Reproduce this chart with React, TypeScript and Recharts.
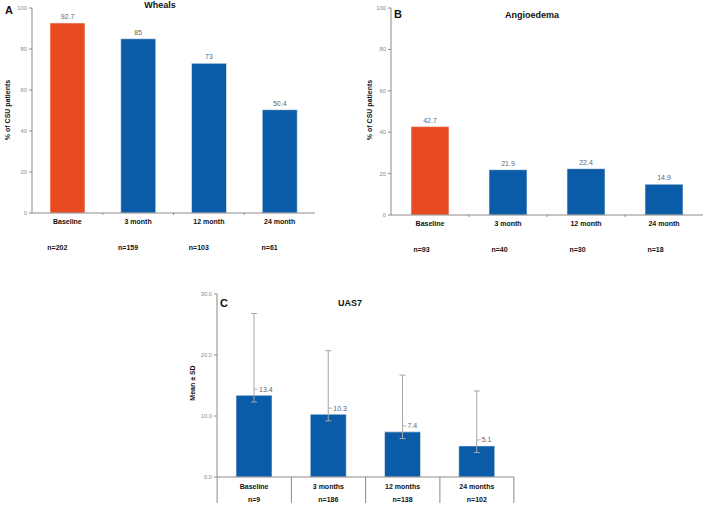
import React from "react";
import {Bar, BarChart, Cell, ErrorBar, LabelList, XAxis, YAxis} from "recharts";

// Panel A - wheals
const monthCats = ["Baseline", "3 month", "12 month", "24 month"];
const whealsPct = [92.7, 85, 73, 50.4];
const whealsN = ["n=202", "n=159", "n=103", "n=61"];

// Panel B - angioedema
const angioPct = [42.7, 21.9, 22.4, 14.9];
const angioN = ["n=93", "n=40", "n=30", "n=18"];

// Panel C - UAS7
const uasCats = ["Baseline", "3 months", "12 months", "24 months"];
const uasMean = [13.4, 10.3, 7.4, 5.1];
const uasSdUp = [13.4, 10.4, 9.3, 9.0];
const uasSdDown = [1.1, 1.1, 1.1, 1.1];
const uasN = ["n=9", "n=186", "n=138", "n=102"];

const pctTicks = [0, 20, 40, 60, 80, 100];
const uasTicks = [0, 10, 20, 30];

const ORANGE = "#E84B22";
const BLUE = "#0A5CA8";
const GREY = "#8a8a8a";
const FONT = "Arial, 'Liberation Sans', sans-serif";

const whealsData = monthCats.map((c, i) => ({cat: c, pct: whealsPct[i], n: whealsN[i]}));
const angioData = monthCats.map((c, i) => ({cat: c, pct: angioPct[i], n: angioN[i]}));
const uasData = uasCats.map((c, i) => ({cat: c, mean: uasMean[i], sd: [uasSdDown[i], uasSdUp[i]], n: uasN[i]}));

const makePctTick = (nLabels: string[], bw: number, nShift: number) => (props: any) => {
    const {x, y, payload, index} = props;
    return (
        <g>
            {index > 0 && <line x1={x - bw / 2} x2={x - bw / 2} y1={y} y2={y + 2} stroke={GREY}/>}
            <text x={x} y={y + 10.5} textAnchor="middle" fontSize={7} fontWeight="bold" fill="#111" fontFamily={FONT}>
                {payload.value}
            </text>
            <text x={x + nShift} y={y + 36.5} textAnchor="middle" fontSize={7} fontWeight="bold" fill="#111" fontFamily={FONT}>
                {nLabels[index]}
            </text>
        </g>
    );
};

const uasTick = (props: any) => {
    const {x, y, payload, index} = props;
    const bw = 74;
    return (
        <g>
            <line x1={x - bw / 2} x2={x - bw / 2} y1={y} y2={y + 26} stroke={GREY}/>
            {index === uasCats.length - 1 && <line x1={x + bw / 2} x2={x + bw / 2} y1={y} y2={y + 26} stroke={GREY}/>}
            <text x={x} y={y + 11.5} textAnchor="middle" fontSize={7} fontWeight="bold" fill="#111" fontFamily={FONT}>
                {payload.value}
            </text>
            <text x={x} y={y + 24.5} textAnchor="middle" fontSize={7} fontWeight="bold" fill="#111" fontFamily={FONT}>
                {uasN[index]}
            </text>
        </g>
    );
};

const pctLabel = (props: any) => {
    const {x, y, width, value} = props;
    return (
        <text x={x + width / 2} y={y - 4} textAnchor="middle" fontSize={7} fill="#666" fontFamily={FONT}>
            {value}
        </text>
    );
};

const uasLabel = (props: any) => {
    const {x, y, width, value} = props;
    const cx = x + width / 2;
    const ly = y - 6;
    return (
        <g>
            <line x1={cx} x2={cx + 4} y1={ly} y2={ly} stroke="#a0a0a0" strokeWidth={0.8}/>
            <text x={cx + 5} y={ly} dy="0.35em" fontSize={7} fill="#666" fontFamily={FONT}>
                {value.toFixed(1)}
            </text>
        </g>
    );
};

const yTick = {fontSize: 5.8, fill: "#8a8a8a", fontFamily: FONT};

const txt = (s: string, left: number, top: number, size: number, extra: React.CSSProperties = {}) => (
    <div style={{
        position: "absolute", left, top, transform: "translate(-50%, -50%)", fontFamily: FONT,
        fontSize: size, fontWeight: "bold", whiteSpace: "nowrap", color: "#111", lineHeight: 1, ...extra
    }}>{s}</div>
);

export default function App() {
    return (
        <div style={{position: "absolute", left: 0, top: 0, width: 705, height: 505, background: "#fff", overflow: "hidden"}}>
            <div style={{position: "absolute", left: 0, top: 0}}>
                <BarChart width={330} height={262} data={whealsData} margin={{top: 8, right: 15, left: 0, bottom: 0}}>
                    <XAxis dataKey="cat" height={49} tickLine={false} tickSize={0} tickMargin={0} interval={0}
                           axisLine={{stroke: GREY}} tick={makePctTick(whealsN, 70.75, -10)}/>
                    <YAxis width={32} domain={[0, 100]} ticks={pctTicks} tick={yTick} tickSize={3}
                           tickLine={{stroke: GREY}} axisLine={{stroke: GREY}}/>
                    <Bar dataKey="pct" barSize={35} isAnimationActive={false} stroke="#f3f3f3" strokeWidth={0.6}>
                        {whealsData.map((d, i) => <Cell key={d.cat} fill={i === 0 ? ORANGE : BLUE}/>)}
                        <LabelList dataKey="pct" content={pctLabel}/>
                    </Bar>
                </BarChart>
            </div>
            <div style={{position: "absolute", left: 355, top: 0}}>
                <BarChart width={350} height={262} data={angioData} margin={{top: 8, right: 2, left: 0, bottom: 0}}>
                    <XAxis dataKey="cat" height={47} tickLine={false} tickSize={0} tickMargin={0} interval={0}
                           axisLine={{stroke: GREY}} tick={makePctTick(angioN, 78, -8.5)}/>
                    <YAxis width={36} domain={[0, 100]} ticks={pctTicks} tick={yTick} tickSize={3}
                           tickLine={{stroke: GREY}} axisLine={{stroke: GREY}}/>
                    <Bar dataKey="pct" barSize={38} isAnimationActive={false} stroke="#f3f3f3" strokeWidth={0.6}>
                        {angioData.map((d, i) => <Cell key={d.cat} fill={i === 0 ? ORANGE : BLUE}/>)}
                        <LabelList dataKey="pct" content={pctLabel}/>
                    </Bar>
                </BarChart>
            </div>
            <div style={{position: "absolute", left: 180, top: 280}}>
                <BarChart width={340} height={225} data={uasData} margin={{top: 14, right: 6, left: 0, bottom: 0}}>
                    <XAxis dataKey="cat" height={28} tickLine={false} tickSize={0} tickMargin={0} interval={0}
                           axisLine={{stroke: GREY}} tick={uasTick}/>
                    <YAxis width={37} domain={[0, 30]} ticks={uasTicks} tick={yTick} tickSize={3}
                           tickFormatter={(v: number) => v.toFixed(1)}
                           tickLine={{stroke: GREY}} axisLine={{stroke: GREY}}/>
                    <Bar dataKey="mean" fill={BLUE} barSize={36} isAnimationActive={false} stroke="#f3f3f3" strokeWidth={0.6}>
                        <ErrorBar dataKey="sd" width={3} stroke="#a6a6a6" strokeWidth={1} direction="y"/>
                        <LabelList dataKey="mean" content={uasLabel}/>
                    </Bar>
                </BarChart>
            </div>

            {txt("A", 9, 10, 11)}
            {txt("Wheals", 160, 5, 9)}
            {txt("% of CSU patients", 7, 110, 7, {transform: "translate(-50%, -50%) rotate(-90deg)"})}

            {txt("B", 398, 14, 11)}
            {txt("Angioedema", 532, 15, 9)}
            {txt("% of CSU patients", 369, 110, 7, {transform: "translate(-50%, -50%) rotate(-90deg)"})}

            {txt("C", 224, 303, 11)}
            {txt("UAS7", 350, 303, 9)}
            {txt("Mean ± SD", 192, 383, 7, {transform: "translate(-50%, -50%) rotate(-90deg)"})}
        </div>
    );
}
